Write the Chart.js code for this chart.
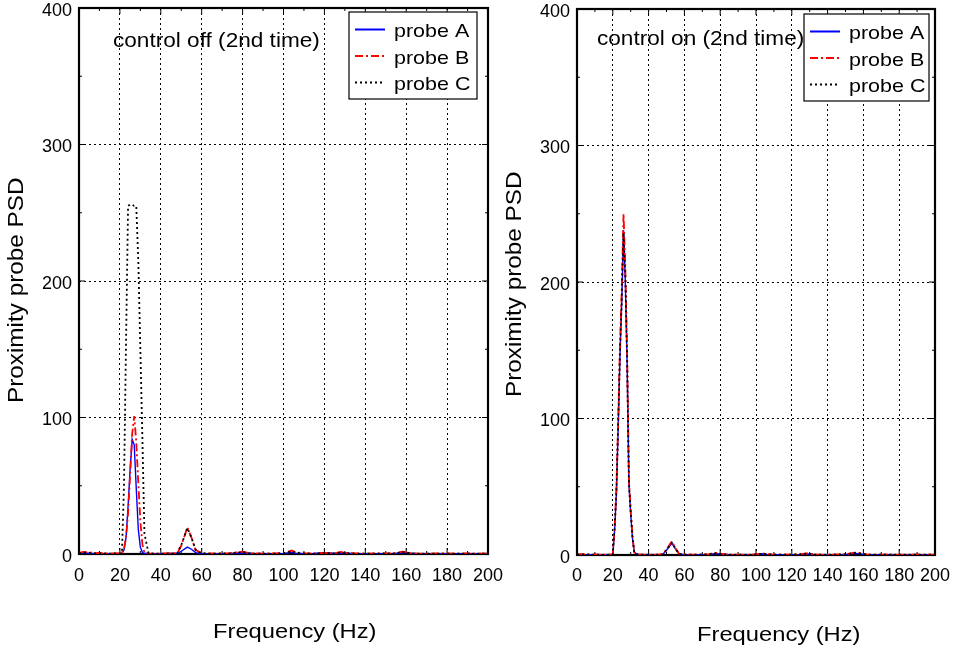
<!DOCTYPE html>
<html>
<head>
<meta charset="utf-8">
<script src="https://cdn.jsdelivr.net/npm/chart.js@4.4.1/dist/chart.umd.min.js"></script>
<style>
    body { margin: 0; background: #fff; }
    #lienzo { position: relative; width: 954px; height: 651px; overflow: hidden; }
    #grafica_1 { position: absolute; left: 0; top: 0; }
    #grafica_2 { position: absolute; left: 500px; top: 0; }
</style>
</head>
<body>
<div id="lienzo">
    <canvas id="grafica_1" width="510" height="651"></canvas>
    <canvas id="grafica_2" width="454" height="651"></canvas>
</div>
<script>
// frecuencias (Hz) donde se leyeron los valores
const freqHz = [0, 2, 5, 8, 10, 12, 15, 18, 20, 21,
    22, 23, 24, 25, 26, 27, 28, 29, 30, 31,
    32, 34, 38, 42, 46, 48, 50, 53, 55, 57,
    60, 64, 67, 70, 74, 77, 80, 83, 86, 90,
    95, 100, 102, 104, 106, 110, 115, 120, 125, 128,
    130, 132, 135, 140, 145, 150, 155, 158, 160, 162,
    165, 170, 175, 180, 185, 190, 195, 200];

// control off (2nd time)
const offProbeA = [0.5, 0.8, 0.5, 0.3, 0.4, 0.3, 0.2, 0.3, 0.4, 0.6,
    3, 12, 35, 62, 84, 80, 48, 18, 5, 1.2,
    0.5, 0.3, 0.2, 0.3, 0.4, 0.4, 2, 5, 3.5, 1,
    0.3, 0.3, 0.2, 0.3, 0.4, 0.6, 0.9, 0.5, 0.3, 0.2,
    0.3, 0.4, 0.8, 1.2, 0.6, 0.3, 0.4, 1.0, 0.4, 0.6,
    0.8, 0.5, 0.3, 0.2, 0.3, 0.3, 0.4, 0.9, 1.2, 0.6,
    0.3, 0.2, 0.3, 0.3, 0.2, 0.3, 0.2, 0.3];
const offProbeB = [0.8, 1.5, 1.2, 0.6, 0.8, 0.5, 0.4, 0.5, 0.6, 1,
    4, 12, 30, 58, 88, 101, 82, 52, 24, 7,
    1, 0.4, 0.3, 0.4, 0.6, 0.6, 6, 19.5, 12, 3,
    0.5, 0.4, 0.3, 0.4, 0.6, 1.2, 1.8, 0.8, 0.4, 0.3,
    0.4, 0.6, 1.5, 2.5, 1.2, 0.5, 0.4, 0.8, 0.6, 1.5,
    1.0, 0.6, 0.4, 0.3, 0.4, 0.4, 0.6, 1.8, 1.4, 0.6,
    0.4, 0.3, 0.4, 0.4, 0.3, 0.4, 0.3, 0.4];
const offProbeC = [0.6, 1.0, 0.8, 0.5, 0.6, 0.4, 0.3, 0.4, 0.5, 1,
    50, 155, 255, 256, 256, 255, 255, 215, 150, 85,
    15, 0.4, 0.3, 0.3, 0.5, 0.6, 6.5, 19, 12, 3,
    0.4, 0.3, 0.3, 0.4, 0.5, 1.0, 1.5, 0.7, 0.3, 0.3,
    0.3, 0.5, 1.2, 2.0, 1.0, 0.4, 0.3, 0.7, 0.5, 1.2,
    0.8, 0.5, 0.3, 0.3, 0.3, 0.4, 0.5, 1.5, 1.2, 0.5,
    0.3, 0.3, 0.3, 0.3, 0.3, 0.3, 0.3, 0.3];

// control on (2nd time)
const onProbeA = [0.3, 0.4, 0.3, 0.2, 0.3, 0.2, 0.2, 0.3, 0.4, 18,
    45, 93, 146, 185, 238, 200, 140, 52, 30, 12,
    2, 0.3, 0.2, 0.2, 0.3, 0.5, 3.5, 8.5, 4.5, 0.8,
    0.3, 0.2, 0.2, 0.3, 0.4, 1.0, 0.8, 0.4, 0.2, 0.2,
    0.2, 0.4, 0.7, 0.9, 0.4, 0.2, 0.2, 0.3, 0.4, 0.8,
    0.7, 0.4, 0.2, 0.2, 0.3, 0.4, 1.2, 1.0, 0.5, 0.3,
    0.2, 0.2, 0.3, 0.2, 0.2, 0.3, 0.2, 0.2];
const onProbeB = [0.4, 0.6, 0.5, 0.3, 0.4, 0.3, 0.3, 0.4, 0.5, 20,
    48, 98, 153, 195, 250, 210, 147, 55, 33, 14,
    2, 0.4, 0.3, 0.3, 0.4, 0.6, 4, 10, 5, 1,
    0.4, 0.3, 0.3, 0.4, 0.6, 1.6, 1.0, 0.5, 0.3, 0.3,
    0.3, 0.5, 0.9, 1.2, 0.6, 0.3, 0.3, 0.4, 0.6, 1.2,
    1.0, 0.5, 0.3, 0.3, 0.4, 0.6, 1.8, 1.5, 0.7, 0.4,
    0.3, 0.3, 0.4, 0.3, 0.3, 0.4, 0.3, 0.3];
const onProbeC = [0.3, 0.5, 0.4, 0.3, 0.3, 0.3, 0.2, 0.3, 0.4, 19,
    46, 95, 148, 188, 236, 204, 143, 53, 31, 13,
    2, 0.3, 0.3, 0.3, 0.3, 0.5, 3.8, 9, 4.8, 0.9,
    0.3, 0.3, 0.2, 0.3, 0.5, 1.3, 0.9, 0.4, 0.3, 0.2,
    0.3, 0.4, 0.8, 1.0, 0.5, 0.3, 0.3, 0.3, 0.5, 1.0,
    0.8, 0.4, 0.3, 0.2, 0.3, 0.5, 1.5, 1.2, 0.6, 0.3,
    0.3, 0.2, 0.3, 0.3, 0.2, 0.3, 0.3, 0.2];

const nombresSondas = ['probe A', 'probe B', 'probe C'];
const ticksFrecuencia = [0, 20, 40, 60, 80, 100, 120, 140, 160, 180, 200];
const ticksPSD = [0, 100, 200, 300, 400];
const menoresFrecuencia = [10, 30, 50, 70, 90, 110, 130, 150, 170, 190];
const menoresPSD = [50, 150, 250, 350];

const FUENTE = '"Liberation Sans", Arial, Helvetica, sans-serif';
const ESTIRAR = 1.13; // el texto del original sale algo ancho

const estilos = [
    { borderColor: '#0000ff', borderWidth: 1.4, borderDash: [], order: 3 },
    { borderColor: '#ff0000', borderWidth: 1.8, borderDash: [8, 3, 2, 3], order: 2 },
    { borderColor: '#000000', borderWidth: 1.8, borderDash: [2, 3], order: 1 }
];

const armarDatasets = series => series.map((valores, i) => ({
    label: nombresSondas[i],
    data: freqHz.map((f, j) => ({ x: f, y: valores[j] })),
    borderColor: estilos[i].borderColor,
    borderWidth: estilos[i].borderWidth,
    borderDash: estilos[i].borderDash,
    order: estilos[i].order,
    pointRadius: 0,
    tension: 0,
    fill: false
}));

const texto = (ctx, t, x, y, size, giro) => {
    ctx.save();
    ctx.font = `${size}px ${FUENTE}`;
    ctx.fillStyle = '#000';
    ctx.textAlign = 'left';
    ctx.textBaseline = 'alphabetic';
    ctx.translate(x, y);
    if (giro) ctx.rotate(-Math.PI / 2);
    ctx.scale(ESTIRAR, 1);
    ctx.fillText(t, 0, 0);
    ctx.restore();
};

// caja de ejes, marcas interiores, nota, leyenda y titulos
const cajaEjes = {
    id: 'cajaEjes',
    beforeDatasetsDraw(chart) {
        const { ctx, chartArea: a, scales: { x, y } } = chart;
        ctx.save();
        ctx.strokeStyle = '#000';
        ctx.setLineDash([]);
        ctx.lineWidth = 1;
        ctx.beginPath();
        const marcaX = (v, l) => {
            const px = x.getPixelForValue(v);
            ctx.moveTo(px, a.bottom); ctx.lineTo(px, a.bottom - l);
            ctx.moveTo(px, a.top); ctx.lineTo(px, a.top + l);
        };
        const marcaY = (v, l) => {
            const py = y.getPixelForValue(v);
            ctx.moveTo(a.left, py); ctx.lineTo(a.left + l, py);
            ctx.moveTo(a.right, py); ctx.lineTo(a.right - l, py);
        };
        ticksFrecuencia.forEach(v => marcaX(v, 6));
        menoresFrecuencia.forEach(v => marcaX(v, 3));
        ticksPSD.forEach(v => marcaY(v, 6));
        menoresPSD.forEach(v => marcaY(v, 3));
        ctx.stroke();
        ctx.lineWidth = 2.2;
        ctx.strokeRect(a.left, a.top, a.right - a.left, a.bottom - a.top);
        ctx.restore();
    },
    afterDraw(chart, args, op) {
        const { ctx, chartArea: a } = chart;

        texto(ctx, op.nota, a.left + op.notaX, a.top + op.notaY, 20);

        // leyenda
        const bx = a.right - op.legDer - op.legAncho;
        const by = a.top + op.legArriba;
        ctx.save();
        ctx.fillStyle = '#fff';
        ctx.fillRect(bx, by, op.legAncho, 87);
        ctx.strokeStyle = '#000';
        ctx.lineWidth = 1.2;
        ctx.setLineDash([]);
        ctx.strokeRect(bx, by, op.legAncho, 87);
        ctx.restore();
        const filas = [17.5, 44, 70.5];
        chart.data.datasets.forEach((ds, i) => {
            const ly = by + filas[i];
            ctx.save();
            ctx.strokeStyle = ds.borderColor;
            ctx.lineWidth = 2;
            ctx.setLineDash(ds.borderDash);
            ctx.beginPath();
            ctx.moveTo(bx + 6, ly);
            ctx.lineTo(bx + 36, ly);
            ctx.stroke();
            ctx.restore();
            texto(ctx, ds.label, bx + 45, ly + 7.5, 19);
        });

        // titulos de ejes
        texto(ctx, 'Frequency (Hz)', op.tituloX[0], op.tituloX[1], 21);
        texto(ctx, 'Proximity probe PSD', op.tituloY[0], op.tituloY[1], 21.5, true);
    }
};

const opcionesGrafica = cfg => ({
    responsive: false,
    animation: false,
    devicePixelRatio: 1,
    layout: { padding: cfg.padding },
    plugins: {
        legend: { display: false },
        tooltip: { enabled: false },
        cajaEjes: cfg.textos
    },
    scales: {
        x: {
            type: 'linear',
            min: 0,
            max: 200,
            afterBuildTicks: s => { s.ticks = ticksFrecuencia.map(v => ({ value: v })); },
            afterFit: s => { s.height = cfg.altoX; s.paddingLeft = 0; s.paddingRight = 0; },
            grid: { color: '#000', lineWidth: 1, drawTicks: false },
            border: { display: false, dash: [2, 3] },
            ticks: { color: '#000', padding: cfg.padTickX, maxRotation: 0, autoSkip: false,
                font: { family: FUENTE, size: 18 } }
        },
        y: {
            min: 0,
            max: 400,
            afterBuildTicks: s => { s.ticks = ticksPSD.map(v => ({ value: v })); },
            afterFit: s => { s.width = cfg.anchoY; s.paddingTop = 0; s.paddingBottom = 0; },
            grid: { color: '#000', lineWidth: 1, drawTicks: false },
            border: { display: false, dash: [2, 3] },
            ticks: { color: '#000', padding: 7, labelOffset: 3,
                font: { family: FUENTE, size: 18 } }
        }
    }
});

const ctx1 = document.getElementById('grafica_1').getContext('2d');
const myChart = new Chart(ctx1, {
    type: 'line',
    data: { datasets: armarDatasets([offProbeA, offProbeB, offProbeC]) },
    options: opcionesGrafica({
        padding: { top: 8, right: 22, left: 0, bottom: 0 },
        altoX: 97,
        anchoY: 79,
        padTickX: 11,
        textos: {
            nota: 'control off (2nd time)', notaX: 34, notaY: 39,
            legDer: 11, legAncho: 128, legArriba: 4,
            tituloX: [213, 638], tituloY: [23, 403]
        }
    }),
    plugins: [cajaEjes]
});

const ctx2 = document.getElementById('grafica_2').getContext('2d');
const myChart2 = new Chart(ctx2, {
    type: 'line',
    data: { datasets: armarDatasets([onProbeA, onProbeB, onProbeC]) },
    options: opcionesGrafica({
        padding: { top: 9, right: 19, left: 0, bottom: 0 },
        altoX: 96,
        anchoY: 77,
        padTickX: 10.5,
        textos: {
            nota: 'control on (2nd time)', notaX: 20, notaY: 36,
            legDer: 6, legAncho: 125, legArriba: 5,
            tituloX: [197, 641], tituloY: [21, 397]
        }
    }),
    plugins: [cajaEjes]
});
</script>
</body>
</html>
